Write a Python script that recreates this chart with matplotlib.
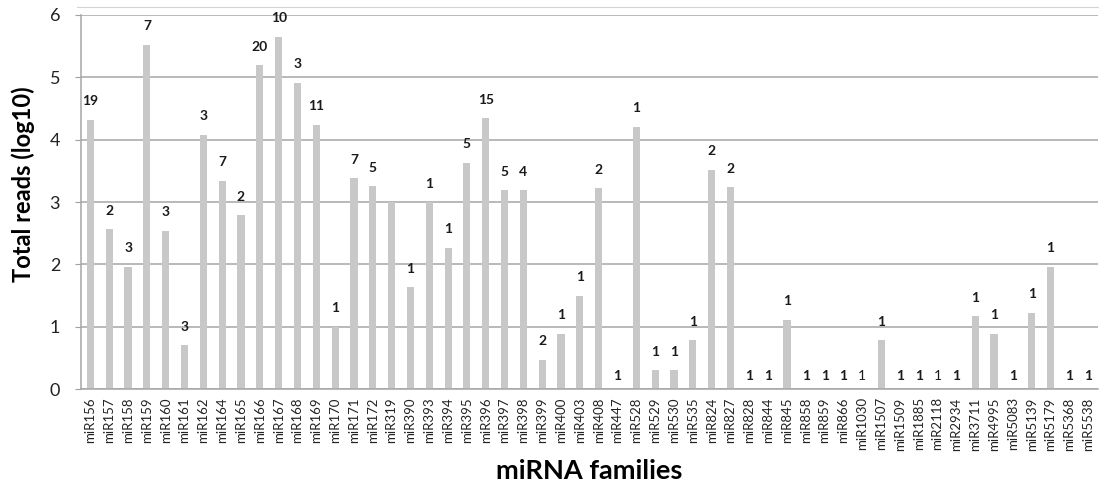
import numpy as np
import matplotlib.pyplot as plt

plt.rcParams['font.family'] = ['Lato', 'DejaVu Sans']

families = ['miR156', 'miR157', 'miR158', 'miR159', 'miR160', 'miR161', 'miR162',
            'miR164', 'miR165', 'miR166', 'miR167', 'miR168', 'miR169', 'miR170',
            'miR171', 'miR172', 'miR319', 'miR390', 'miR393', 'miR394', 'miR395',
            'miR396', 'miR397', 'miR398', 'miR399', 'miR400', 'miR403', 'miR408',
            'miR447', 'miR528', 'miR529', 'miR530', 'miR535', 'miR824', 'miR827',
            'miR828', 'miR844', 'miR845', 'miR858', 'miR859', 'miR866', 'miR1030',
            'miR1507', 'miR1509', 'miR1885', 'miR2118', 'miR2934', 'miR3711',
            'miR4995', 'miR5083', 'miR5139', 'miR5179', 'miR5368', 'miR5538']

# log10 of total reads per family
log_reads = [4.32, 2.56, 1.96, 5.52, 2.54, 0.70, 4.08,
             3.34, 2.79, 5.19, 5.65, 4.91, 4.24, 1.00,
             3.38, 3.25, 3.00, 1.63, 3.00, 2.27, 3.63,
             4.34, 3.19, 3.19, 0.47, 0.89, 1.50, 3.22,
             0.00, 4.21, 0.30, 0.30, 0.78, 3.52, 3.24,
             0.00, 0.00, 1.11, 0.00, 0.00, 0.00, 0.00,
             0.78, 0.00, 0.00, 0.00, 0.00, 1.17,
             0.89, 0.00, 1.22, 1.96, 0.00, 0.00]

# number of members in each family ('' = no label)
members = ['19', '2', '3', '7', '3', '3', '3',
           '7', '2', '20', '10', '3', '11', '1',
           '7', '5', '', '1', '1', '1', '5',
           '15', '5', '4', '2', '1', '1', '2',
           '1', '1', '1', '1', '1', '2', '2',
           '1', '1', '1', '1', '1', '1', '1',
           '1', '1', '1', '1', '1', '1',
           '1', '1', '1', '1', '1', '1']
light_labels = ['miR1030', 'miR2118']

fig = plt.figure(figsize=(10.99, 4.87), dpi=100)
ax = fig.add_axes([0.0737, 0.2012, 0.925, 0.768])

x = np.arange(len(families))
ax.bar(x, log_reads, width=0.38, color='#c8c8c8', zorder=2)

for xi, v, lab, fam in zip(x, log_reads, members, families):
    if lab == '':
        continue
    weight = 'normal' if fam in light_labels else 'bold'
    ax.annotate(lab, (xi, v), xytext=(0, 9 if v > 0 else 5),
                textcoords='offset points', ha='center', va='bottom',
                fontsize=10, fontweight=weight, color='#1a1a1a')

ax.set_xlim(-0.5, len(families) - 0.5)
ax.set_ylim(0, 6)
ax.set_yticks(range(7))
ax.set_xticks(x)
ax.set_xticklabels(families, rotation=90, fontsize=9.5, color='#222222')
ax.tick_params(axis='x', length=0, pad=6)
ax.tick_params(axis='y', length=4, color='#a0a0a0', labelsize=13,
               labelcolor='#222222', pad=11)

ax.grid(axis='y', color='#a6a6a6', linewidth=1.1, zorder=0)
for side in ['top', 'right']:
    ax.spines[side].set_visible(False)
for side in ['left', 'bottom']:
    ax.spines[side].set_color('#a6a6a6')
    ax.spines[side].set_linewidth(1.1)

ax.set_ylabel('Total reads (log10)', fontsize=17, fontweight='bold', va='center')
ax.yaxis.set_label_coords(-0.057, 0.548)
ax.set_xlabel('miRNA families', fontsize=19.5, fontweight='bold', va='center')
ax.xaxis.set_label_coords(0.5, -0.219)

# thin frame line along the top of the chart area
fig.add_artist(plt.Line2D([0.070, 0.999], [0.985, 0.985], color='#d4d4d4', lw=0.8))

fig.savefig('out.png', dpi=100)
